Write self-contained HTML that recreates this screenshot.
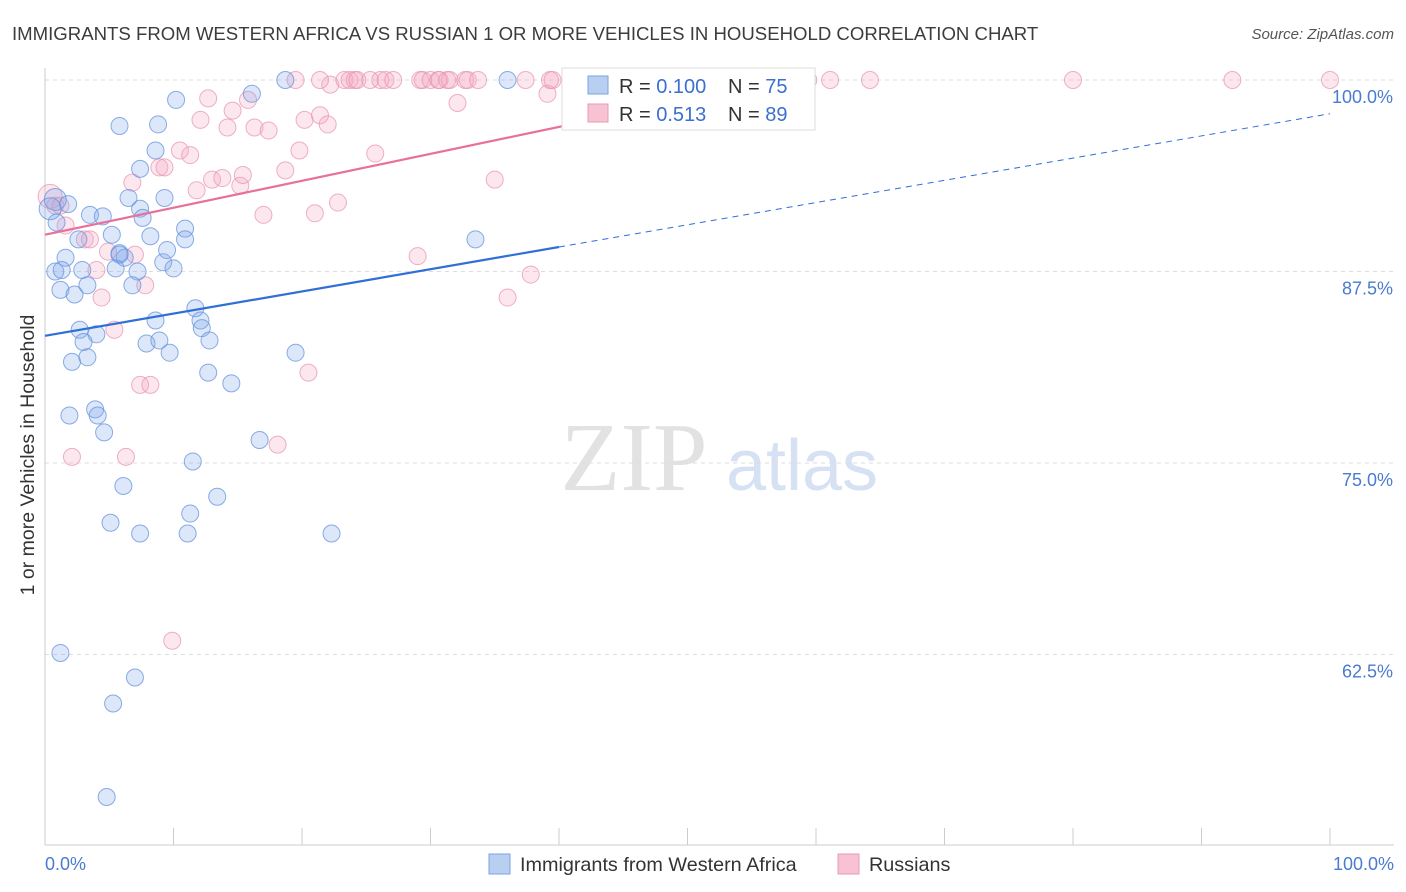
<!DOCTYPE html>
<html><head><meta charset="utf-8"><style>
body{margin:0;background:#fff;font-family:"Liberation Sans",sans-serif;}
svg{display:block}
</style></head><body>
<svg id="chart" width="1406" height="892">
<text x="12" y="40" font-size="18.6" fill="#3c3c3c">IMMIGRANTS FROM WESTERN AFRICA VS RUSSIAN 1 OR MORE VEHICLES IN HOUSEHOLD CORRELATION CHART</text>
<text x="1394" y="39" font-size="15" fill="#555" text-anchor="end" font-style="italic">Source: ZipAtlas.com</text>
<text x="34" y="455" font-size="19.5" fill="#333" text-anchor="middle" transform="rotate(-90 34 455)">1 or more Vehicles in Household</text>
<g><text x="634" y="490" font-size="98" fill="#e2e2e2" font-family="Liberation Serif,serif" text-anchor="middle">ZIP</text><text x="802" y="490" font-size="72" fill="#d6e2f3" text-anchor="middle">atlas</text></g>
<g id="grid"></g><g id="marks"></g><g id="lines"></g>
<g>
<rect x="562" y="68" width="253" height="62" fill="#fff" stroke="#ddd"/>
<rect x="588" y="76" width="20" height="18" fill="#b9cff2" stroke="#7aa3e0"/>
<rect x="588" y="104" width="20" height="18" fill="#f7c3d3" stroke="#e99ab4"/>
<text x="619" y="93" font-size="20" fill="#333">R = <tspan fill="#3b6fd0">0.100</tspan></text>
<text x="728" y="93" font-size="20" fill="#333">N = <tspan fill="#3b6fd0">75</tspan></text>
<text x="619" y="121" font-size="20" fill="#333">R = <tspan fill="#3b6fd0">0.513</tspan></text>
<text x="728" y="121" font-size="20" fill="#333">N = <tspan fill="#3b6fd0">89</tspan></text>
</g>
<g>
<rect x="489" y="854" width="21" height="20" fill="#b9cff2" stroke="#7aa3e0"/>
<text x="520" y="871" font-size="19.8" fill="#333">Immigrants from Western Africa</text>
<rect x="838" y="854" width="21" height="20" fill="#f7c3d3" stroke="#e99ab4"/>
<text x="869" y="871" font-size="19.8" fill="#333">Russians</text>
</g>
</svg>
<script>
const yTicks=[100,87.5,75,62.5];
const yTickLabels=["100.0%","87.5%","75.0%","62.5%"];
const blueX=[0.8,0.4,0.9,1.8,3.5,4.5,2.6,5.2,5.8,6.2,1.6,0.8,1.3,2.9,1.2,2.3,3.3,5.5,7.2,6.8,9.2,10.0,10.9,10.9,9.5,8.2,7.4,7.6,6.5,7.4,8.6,5.8,8.8,10.2,9.3,16.1,18.7,36.0,33.5,2.7,4.0,3.0,2.1,3.3,11.7,12.1,12.2,12.8,8.6,7.9,8.9,9.7,19.5,12.7,14.5,1.9,3.9,4.1,4.6,16.7,11.5,6.1,13.4,11.3,5.1,7.4,11.1,22.3,1.2,7.0,5.3,4.8,5.8];
const blueY=[92.2,91.6,90.7,91.9,91.2,91.1,89.6,89.9,88.7,88.4,88.4,87.5,87.6,87.6,86.3,86.0,86.6,87.7,87.5,86.6,88.1,87.7,90.3,89.6,88.9,89.8,91.6,91.0,92.3,94.2,95.4,97.0,97.1,98.7,92.3,99.1,100,100,89.6,83.7,83.4,82.9,81.6,81.9,85.1,84.3,83.8,83.0,84.3,82.8,83.0,82.2,82.2,80.9,80.2,78.1,78.5,78.1,77.0,76.5,75.1,73.5,72.8,71.7,71.1,70.4,70.4,70.4,62.6,61.0,59.3,53.2,88.6];
const pinkX=[0.4,0.8,1.2,1.6,3.1,3.5,4.0,4.4,5.4,4.9,7.0,7.8,6.8,7.4,8.2,6.3,2.1,9.9,8.9,9.3,10.5,11.3,11.8,13.0,13.8,15.2,15.4,12.1,12.7,14.2,14.6,15.8,16.3,17.4,17.0,18.7,19.8,20.2,21.0,21.4,22.0,22.8,25.7,18.1,20.5,29.0,32.1,35.0,36.0,37.8,39.1,22.2,19.5,21.4,23.3,23.7,24.1,24.3,25.3,26.1,26.5,27.1,29.2,29.4,30.0,30.6,30.7,31.3,31.5,32.7,32.9,33.7,37.4,39.3,39.5,41.5,43.2,46.9,47.9,51.0,52.1,52.5,59.4,61.1,64.2,80.0,92.4,100];
const pinkY=[92.4,91.8,91.8,90.5,89.6,89.6,87.6,85.8,83.7,88.8,88.6,86.6,93.3,80.1,80.1,75.4,75.4,63.4,94.3,94.3,95.4,95.1,92.8,93.5,93.6,93.1,93.8,97.4,98.8,96.9,98.0,98.7,96.9,96.7,91.2,94.1,95.4,97.4,91.3,97.7,97.1,92.0,95.2,76.2,80.9,88.5,98.5,93.5,85.8,87.3,99.1,99.7,100,100,100,100,100,100,100,100,100,100,100,100,100,100,100,100,100,100,100,100,100,100,100,100,100,100,100,100,100,100,100,100,100,100,100,100];
const blueTrend=[83.3,97.8];
const pinkTrend=[89.9,100.3]; const pinkTrendEndX=59.1;
const NS="http://www.w3.org/2000/svg";
const X=v=>45+v*12.85, Y=v=>80+(100-v)*15.32;
function mk(t,a,p){const e=document.createElementNS(NS,t);for(const k in a)e.setAttribute(k,a[k]);p.appendChild(e);return e;}
const grid=document.getElementById('grid'),marks=document.getElementById('marks'),lines=document.getElementById('lines');
yTicks.forEach((t,i)=>{
 const l=mk('line',{x1:45,x2:1394,y1:Y(t),y2:Y(t),stroke:'#ddd','stroke-dasharray':'4,4'},grid);
 
 
 const tx=mk('text',{x:1393,y:Y(t)+23,'font-size':18,fill:'#4a7bd0','text-anchor':'end'},grid);tx.textContent=yTickLabels[i];
 
 
});
mk('line',{x1:45,x2:45,y1:68,y2:845,stroke:'#ccc'},grid);
mk('line',{x1:45,x2:1394,y1:845,y2:845,stroke:'#ccc'},grid);
for(let i=0;i<=10;i++){mk('line',{x1:X(i*10),x2:X(i*10),y1:828,y2:845,stroke:'#ccc'},grid);}
let t0=mk('text',{x:45,y:870,'font-size':18,fill:'#4a7bd0'},grid);t0.textContent='0.0%';


let t1=mk('text',{x:1394,y:870,'font-size':18,fill:'#4a7bd0','text-anchor':'end'},grid);t1.textContent='100.0%';


pinkX.forEach((v,i)=>{const c=mk('circle',{cx:X(v),cy:Y(pinkY[i]),r:i==0?12:8.5,fill:'rgba(244,170,195,0.28)',stroke:'rgba(232,150,180,0.75)','stroke-width':1},marks);
 
 });
blueX.forEach((v,i)=>{const c=mk('circle',{cx:X(v),cy:Y(blueY[i]),r:i<2?11:8.5,fill:'rgba(130,170,235,0.28)',stroke:'rgba(100,145,220,0.75)','stroke-width':1},marks);
 
 });
const by=x=>blueTrend[0]+(blueTrend[1]-blueTrend[0])*x/100;
let bl=mk('line',{x1:X(0),y1:Y(by(0)),x2:X(40),y2:Y(by(40)),stroke:'#2f6fd6','stroke-width':2.2},lines);


let bd=mk('line',{x1:X(40),y1:Y(by(40)),x2:X(100),y2:Y(by(100)),stroke:'#2f6fd6','stroke-width':1,'stroke-dasharray':'6,5'},lines);


let pl=mk('line',{x1:X(0),y1:Y(pinkTrend[0]),x2:X(pinkTrendEndX),y2:Y(pinkTrend[1]),stroke:'#e8709a','stroke-width':2.2},lines);


</script>
</body></html>
